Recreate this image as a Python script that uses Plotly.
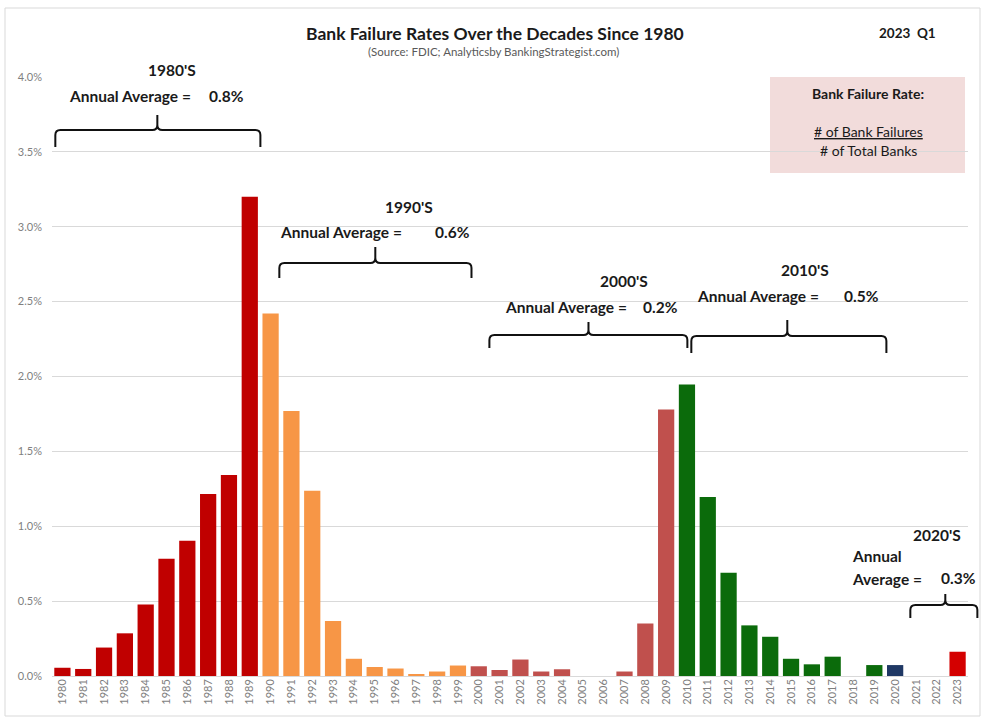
import plotly.graph_objects as go

years = list(range(1980, 2024))
failure_rate = [
    0.055, 0.047, 0.19, 0.285, 0.478, 0.783, 0.903, 1.215, 1.342, 3.20,
    2.42, 1.769, 1.237, 0.367, 0.115, 0.06, 0.05, 0.01, 0.03, 0.07,
    0.065, 0.04, 0.11, 0.03, 0.045, 0.0, 0.0, 0.03, 0.35, 1.78,
    1.947, 1.195, 0.69, 0.338, 0.262, 0.115, 0.078, 0.129, 0.0, 0.073,
    0.073, 0.0, 0.0, 0.162,
]
y_ticks = [0, 0.5, 1.0, 1.5, 2.0, 2.5, 3.0, 3.5, 4.0]
decade_labels = ["1980'S", "1990'S", "2000'S", "2010'S", "2020'S"]
decade_avgs = ["0.8%", "0.6%", "0.2%", "0.5%", "0.3%"]

DECADE_COLORS = {1980: "#C00000", 1990: "#F79646", 2000: "#C0504D", 2010: "#0B6B0B"}


def bar_color(y):
    if y == 2020:
        return "#1F3864"
    if y >= 2021:
        return "#D40000"
    return DECADE_COLORS[(y // 10) * 10]


colors = [bar_color(y) for y in years]

X0, X1 = 1979.5, 2023.5
Y0, Y1 = 0.0, 4.0
L, R, T, B = 52, 16, 77, 43
W, H = 984, 719
PW, PH = W - L - R, H - T - B


def dx(v):
    return (v - X0) / (X1 - X0)


def dy(v):
    return (v - Y0) / (Y1 - Y0)


def px(x):
    return (x - L) / PW


def py(y):
    return (H - B - y) / PH


fig = go.Figure()
fig.add_trace(go.Bar(
    x=years, y=failure_rate, width=0.78,
    marker=dict(color=colors, line=dict(width=0)),
    hoverinfo="x+y",
))

FONT = "Lato, 'Open Sans', sans-serif"
TXT = "#1A1A1A"
ann = []
AS = 15.5


def text(x, y, s, size=AS, xanchor="center", color=TXT, bold=True):
    ann.append(dict(
        x=px(x), y=py(y), xref="paper", yref="paper",
        text=(f"<b>{s}</b>" if bold else s), showarrow=False,
        xanchor=xanchor, yanchor="middle",
        font=dict(family=FONT, size=size, color=color),
    ))


text(495, 33, "Bank Failure Rates Over the Decades Since 1980", size=17.5)
text(493, 52, "(Source: FDIC; Analyticsby BankingStrategist.com)", size=11.5, color="#595959", bold=False)
text(907, 33, "2023&nbsp;&nbsp;Q1", size=13.5)

# decade labels
text(172, 70, decade_labels[0])
text(67, 96, "Annual Average =", xanchor="left")
text(207, 96, decade_avgs[0], xanchor="left")

text(409, 207, decade_labels[1])
text(278, 232, "Annual Average =", xanchor="left")
text(433, 232, decade_avgs[1], xanchor="left")

text(624, 281, decade_labels[2])
text(503, 307, "Annual Average =", xanchor="left")
text(641, 307, decade_avgs[2], xanchor="left")

text(805, 270, decade_labels[3])
text(695, 296, "Annual Average =", xanchor="left")
text(842, 296, decade_avgs[3], xanchor="left")

text(937, 535, decade_labels[4])
text(850, 556, "Annual", xanchor="left")
text(850, 579, "Average =", xanchor="left")
text(939, 578, decade_avgs[4], xanchor="left")

# definition box text
text(868, 93, "Bank Failure Rate:", size=14)
text(868, 131, "<u># of Bank Failures</u>", size=14, bold=False)
text(868, 151, "# of Total Banks", size=14, bold=False)

shapes = []
# outer frame
shapes.append(dict(type="rect", xref="paper", yref="paper",
                   x0=px(5), x1=px(980), y0=py(716), y1=py(8),
                   line=dict(color="#D9D9D9", width=1), fillcolor="rgba(0,0,0,0)", layer="below"))
# pink definition box
shapes.append(dict(type="rect", xref="paper", yref="paper",
                   x0=px(770), x1=px(965), y0=py(173), y1=py(77),
                   line=dict(width=0), fillcolor="#F2DCDB", layer="below"))


def brace(x_left, x_right, x_mid, y_line, y_end, y_top):
    a, b, m = dx(x_left), dx(x_right), dx(x_mid)
    yl, ye, yt = dy(y_line), dy(y_end), dy(y_top)
    rx = 5 / PW
    ry = 5 / PH
    path = (
        f"M {a},{ye} L {a},{yl - ry} Q {a},{yl} {a + rx},{yl} "
        f"L {m - rx},{yl} Q {m},{yl} {m},{yl + ry} L {m},{yt} "
        f"M {m},{yl + ry} Q {m},{yl} {m + rx},{yl} "
        f"L {b - rx},{yl} Q {b},{yl} {b},{yl - ry} L {b},{ye}"
    )
    shapes.append(dict(type="path", xref="paper", yref="paper", path=path,
                       line=dict(color="#111111", width=2)))


brace(1979.66, 1989.51, 1984.56, 3.646, 3.533, 3.746)
brace(1990.42, 1999.65, 1995.03, 2.758, 2.658, 2.865)
brace(2000.51, 2010.02, 2005.27, 2.277, 2.190, 2.364)
brace(2010.21, 2019.58, 2014.82, 2.270, 2.157, 2.377)
brace(2020.73, 2023.95, 2022.41, 0.474, 0.387, 0.548)

fig.update_layout(
    width=W, height=H,
    margin=dict(l=L, r=R, t=T, b=B, autoexpand=False),
    paper_bgcolor="white", plot_bgcolor="white",
    showlegend=False, bargap=0.2,
    font=dict(family=FONT, color="#595959"),
    annotations=ann, shapes=shapes,
    xaxis=dict(
        range=[X0, X1], tickmode="array", tickvals=years, ticktext=[str(y) for y in years],
        tickangle=-90, tickfont=dict(size=11, color="#7F7F7F"),
        showgrid=False, zeroline=False, showline=False, ticks="",
    ),
    yaxis=dict(
        range=[Y0, Y1], tickmode="array", tickvals=y_ticks,
        ticktext=[f"{v:.1f}%" for v in y_ticks],
        tickfont=dict(size=11, color="#7F7F7F"),
        showgrid=True, gridcolor="#D9D9D9", gridwidth=1,
        zeroline=True, zerolinecolor="#D9D9D9", zerolinewidth=1,
        showline=False, ticks="", ticklabelstandoff=9,
    ),
)

fig.write_html("out.html", config={"displayModeBar": False},
               post_script="document.body.style.margin='0';")
